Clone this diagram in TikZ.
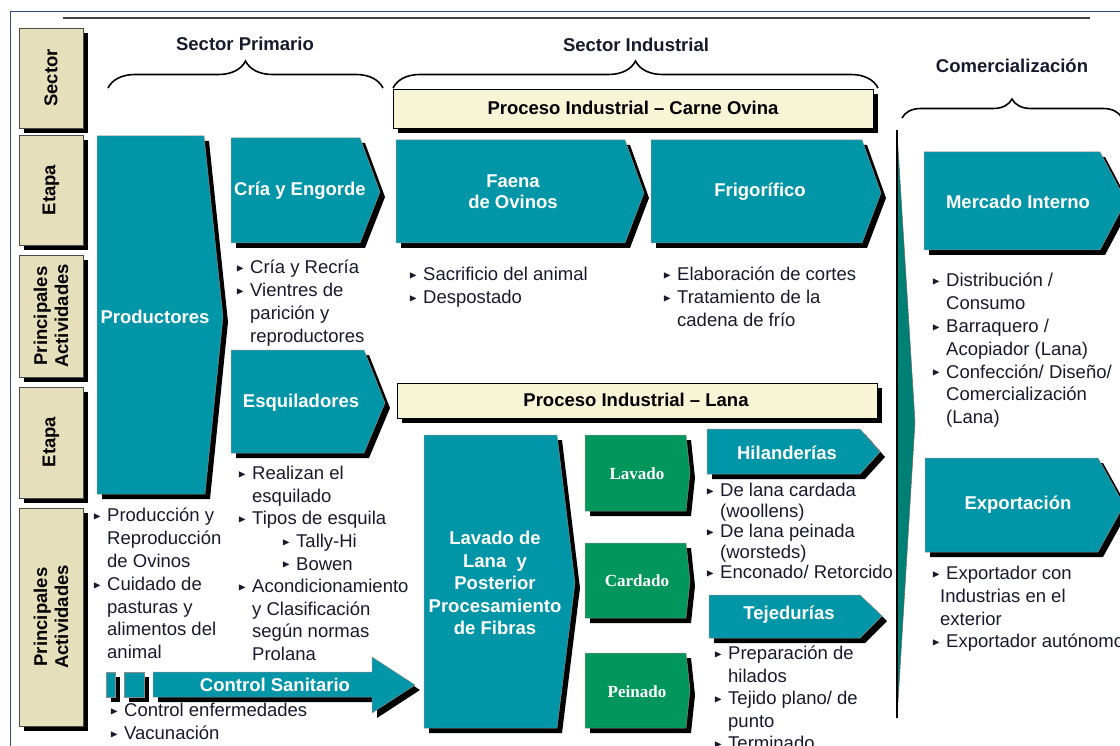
\documentclass[tikz,border=0pt]{standalone}
\usepackage{fontspec}
\usepackage{amssymb}
\setmainfont{Liberation Sans}
\newfontfamily\boxserif{Liberation Serif}
\usetikzlibrary{shadows,decorations.pathreplacing}

\definecolor{tealbg}{RGB}{0,150,168}
\definecolor{greenbg}{RGB}{0,150,92}
\definecolor{dividerbg}{RGB}{0,128,116}
\definecolor{labelbg}{RGB}{229,224,187}
\definecolor{bannerbg}{RGB}{248,244,214}
\definecolor{txt}{RGB}{25,25,45}
\definecolor{frameblue}{RGB}{50,70,140}

% bullet and indent for the activity lists
\newcommand{\bl}{\makebox[14pt][l]{\raisebox{2.2pt}{\fontsize{10.5}{10.5}\selectfont$\blacktriangleright$}}}
\newcommand{\ind}{\hspace*{14pt}}

\tikzset{
  sh/.style={drop shadow={shadow xshift=5pt, shadow yshift=-5pt, fill=black, opacity=1}},
  tealbox/.style={sh, fill=tealbg, draw=black!45, line width=0.5pt},
  greenbox/.style={sh, fill=greenbg, draw=black!45, line width=0.5pt},
  rowlabel/.style={sh, fill=labelbg, draw=black!70, line width=0.6pt},
  banner/.style={sh, fill=bannerbg, draw=black, line width=0.8pt},
  boxtext/.style={text=white, font=\bfseries\fontsize{18.5}{21}\selectfont, align=center, inner sep=0pt},
  greentext/.style={text=white, font=\boxserif\bfseries\fontsize{17}{18}\selectfont, inner sep=0pt},
  headtext/.style={text=txt, font=\bfseries\fontsize{18.5}{22}\selectfont, inner sep=0pt},
  rowtext/.style={text=black, font=\bfseries\fontsize{18.5}{21}\selectfont, rotate=90, align=center, inner sep=0pt},
  listtext/.style={text=txt, font=\fontsize{18.5}{#1}\selectfont, align=left, anchor=north west, inner sep=0pt},
  listtext/.default=22.8,
  sectorbrace/.style={decorate, decoration={brace, amplitude=#1}, line width=1.6pt},
}

\begin{document}
\begin{tikzpicture}[x=1pt, y=-1pt]
\useasboundingbox (0,0) rectangle (1120,746);
\clip (0,0) rectangle (1120,746);

% frame lines
\draw[frameblue, line width=1pt] (10,746) -- (10,12) -- (1120,12);
\draw[black!75, line width=2pt] (63,18) -- (1090,18);

% row labels on the left
\path[rowlabel] (19,28) rectangle (83,128);
\node[rowtext] (sectorLbl) at (51,78) {Sector};
\path[rowlabel] (19,135) rectangle (83,245);
\node[rowtext] (etapaLblA) at (51,190) {Etapa};
\path[rowlabel] (19,255) rectangle (83,377);
\node[rowtext] (activLblA) at (51,316) {Principales\\Actividades};
\path[rowlabel] (19,387) rectangle (83,498);
\node[rowtext] (etapaLblB) at (51,442) {Etapa};
\path[rowlabel] (19,508) rectangle (83,726);
\node[rowtext] (activLblB) at (51,617) {Principales\\Actividades};

% sector headings with braces
\node[headtext] (primario) at (245,44) {Sector Primario};
\draw[sectorbrace=27pt] (108,88) -- (383,88);
\node[headtext] (industrial) at (636,45) {Sector Industrial};
\draw[sectorbrace=27pt] (393,88) -- (878,88);
\node[headtext] (comercial) at (1012,66) {Comercialización};
\draw[sectorbrace=19pt] (902,118) -- (1122,118);

% Sector Primario
\path[tealbox] (97,136) -- (204,136) -- (223,317) -- (205,494) -- (97,494) -- cycle;
\node[boxtext] (productores) at (155,317) {Productores};
\path[tealbox] (231,138) -- (360,138) -- (380,192) -- (360,243) -- (231,243) -- cycle;
\node[boxtext] (cria) at (300,191) {Cría y Engorde};
\path[tealbox] (231,350) -- (364,350) -- (385,403) -- (364,453) -- (231,453) -- cycle;
\node[boxtext] (esquiladores) at (301,403) {Esquiladores};

\node[listtext] (criaList) at (236,260) {\bl Cría y Recría\\ \bl Vientres de\\ \ind parición y\\ \ind reproductores};
\node[listtext=22.6] (esquilaList) at (238,466) {\bl Realizan el\\ \ind esquilado\\ \bl Tipos de esquila\\
  \hspace*{44pt}\bl Tally-Hi\\ \hspace*{44pt}\bl Bowen\\ \bl Acondicionamiento\\ \ind y Clasificación\\
  \ind según normas\\ \ind Prolana};
\node[listtext] (prodList) at (93,508) {\bl Producción y\\ \ind Reproducción\\ \ind de Ovinos\\
  \bl Cuidado de\\ \ind pasturas y\\ \ind alimentos del\\ \ind animal};

% Control Sanitario
\path[tealbox] (106,672) rectangle (115,697);
\path[tealbox] (124,672) rectangle (144,697);
\path[tealbox] (153,672) -- (372,672) -- (372,657) -- (415,685) -- (372,713) -- (372,697) -- (153,697) -- cycle;
\node[boxtext] (control) at (275,685) {Control Sanitario};
\node[listtext=23] (controlList) at (110,703) {\bl Control enfermedades\\ \bl Vacunación};

% Proceso Industrial - Carne Ovina
\path[banner] (393,89) rectangle (873,128);
\node[headtext, text=black] (carne) at (633,108) {Proceso Industrial – Carne Ovina};
\path[tealbox] (396,140) -- (625,140) -- (644,193) -- (625,243) -- (396,243) -- cycle;
\node[boxtext] (faena) at (513,192) {Faena\\de Ovinos};
\path[tealbox] (651,140) -- (862,140) -- (881,193) -- (862,243) -- (651,243) -- cycle;
\node[boxtext] (frigo) at (760,192) {Frigorífico};
\node[listtext] (faenaList) at (409,267) {\bl Sacrificio del animal\\ \bl Despostado};
\node[listtext] (frigoList) at (663,267) {\bl Elaboración de cortes\\ \bl Tratamiento de la\\ \ind cadena de frío};

% Proceso Industrial - Lana
\path[banner] (397,383) rectangle (877,418);
\node[headtext, text=black] (lana) at (636,400) {Proceso Industrial – Lana};
\path[tealbox] (424,435) -- (557,435) -- (575,583) -- (557,728) -- (424,728) -- cycle;
\node[boxtext, font=\bfseries\fontsize{18.5}{22.5}\selectfont] (lavadoLana) at (495,583)
  {Lavado de\\Lana\ \ y\\Posterior\\Procesamiento\\de Fibras};
\path[greenbox] (585,435) -- (686,435) -- (690,473) -- (686,511) -- (585,511) -- cycle;
\node[greentext] (lavado) at (637,474) {Lavado};
\path[greenbox] (585,543) -- (686,543) -- (690,581) -- (686,618) -- (585,618) -- cycle;
\node[greentext] (cardado) at (637,581) {Cardado};
\path[greenbox] (585,653) -- (686,653) -- (690,690) -- (686,728) -- (585,728) -- cycle;
\node[greentext] (peinado) at (637,692) {Peinado};
\path[tealbox] (707,429) -- (860,429) -- (880,452) -- (860,474) -- (707,474) -- cycle;
\node[boxtext] (hilan) at (787,453) {Hilanderías};
\node[listtext=20.5] (hilanList) at (706,483) {\bl De lana cardada\\ \ind (woollens)\\ \bl De lana peinada\\
  \ind (worsteds)\\ \bl Enconado/ Retorcido};
\path[tealbox] (709,595) -- (860,595) -- (882,616) -- (860,638) -- (709,638) -- cycle;
\node[boxtext] (tejed) at (789,615) {Tejedurías};
\node[listtext=22.5] (tejedList) at (714,646) {\bl Preparación de\\ \ind hilados\\ \bl Tejido plano/ de\\
  \ind punto\\ \bl Terminado};

% divider before Comercialización
\path[fill=dividerbg, draw=black!60, line width=0.5pt] (897,132) -- (915,422) -- (897,718) -- cycle;
\draw[line width=1.2pt] (897,130) -- (897,718);

% Comercialización
\path[tealbox] (924,152) -- (1100,152) -- (1126,201) -- (1100,250) -- (924,250) -- cycle;
\node[boxtext] (mercado) at (1018,202) {Mercado Interno};
\node[listtext] (mercadoList) at (932,273) {\bl Distribución /\\ \ind Consumo\\ \bl Barraquero /\\
  \ind Acopiador (Lana)\\ \bl Confección/ Diseño/\\ \ind Comercialización\\ \ind (Lana)};
\path[tealbox] (925,458) -- (1098,458) -- (1124,505) -- (1098,552) -- (925,552) -- cycle;
\node[boxtext] (export) at (1018,505) {Exportación};
\node[listtext=22.7] (exportList) at (932,566) {\bl Exportador con\\ \hspace*{8pt}Industrias en el\\
  \hspace*{8pt}exterior\\ \bl Exportador autónomo};

\end{tikzpicture}
\end{document}
